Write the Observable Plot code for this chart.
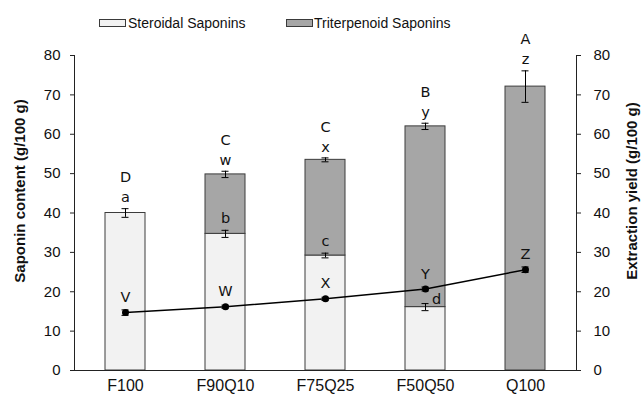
<!DOCTYPE html>
<html><head><meta charset="utf-8">
<script src="https://cdn.jsdelivr.net/npm/d3@7"></script>
<script src="https://cdn.jsdelivr.net/npm/@observablehq/plot@0.6"></script>
<style>
body{margin:0;background:#fff;}
#wrap{width:642px;height:395px;position:relative;font-family:"Liberation Sans",Arial,sans-serif;color:#111;}
#legend{position:absolute;left:0;top:0;width:642px;height:40px;z-index:2;}
#chart{position:absolute;left:0;top:0;}
.sw{position:absolute;top:19px;width:25px;height:6px;border:1px solid #3a3a3a;}
.lt{position:absolute;top:15px;font-size:14px;line-height:16px;white-space:nowrap;}
</style>
</head><body>
<div id="wrap">
  <div id="chart"></div>
  <div id="legend"></div>
</div>
<script>
const categories = ["F100", "F90Q10", "F75Q25", "F50Q50", "Q100"];
const seriesNames = ["Steroidal Saponins", "Triterpenoid Saponins"];
const steroidal = [40.0, 34.7, 29.2, 16.1, 0];
const triterpenoid = [0, 15.1, 24.3, 45.9, 72.1];
const totalSD = [1.1, 0.8, 0.5, 0.8, 4.0];
const steroidalSD = [1.1, 0.9, 0.6, 0.9, 0];
const extractionYield = [14.7, 16.2, 18.2, 20.7, 25.6];
const yieldSD = [0.7, 0.4, 0.4, 0.5, 0.7];
const topLower = ["a", "w", "x", "y", "z"];
const topUpper = ["D", "C", "C", "B", "A"];
const midLetters = ["", "b", "c", "d", ""];
const yieldLetters = ["V", "W", "X", "Y", "Z"];
const yTicks = [0, 10, 20, 30, 40, 50, 60, 70, 80];
const leftTitle = "Saponin content (g/100 g)";
const rightTitle = "Extraction yield (g/100 g)";
const colors = ["#f2f2f2", "#a6a6a6"];

// legend
const legend = document.getElementById("legend");
const legendPos = [[99, 128], [286, 314]];
seriesNames.forEach((n, i) => {
  const s = document.createElement("div");
  s.className = "sw"; s.style.left = legendPos[i][0] + "px"; s.style.background = colors[i];
  const t = document.createElement("div");
  t.className = "lt"; t.style.left = legendPos[i][1] + "px"; t.textContent = n;
  legend.appendChild(s); legend.appendChild(t);
});

const rows = [];
categories.forEach((c, i) => {
  if (steroidal[i] > 0) rows.push({cat: c, type: seriesNames[0], value: steroidal[i]});
  if (triterpenoid[i] > 0) rows.push({cat: c, type: seriesNames[1], value: triterpenoid[i]});
});
const pts = categories.map((c, i) => ({
  cat: c,
  ster: steroidal[i],
  ssd: steroidalSD[i],
  total: steroidal[i] + triterpenoid[i],
  tsd: totalSD[i],
  yld: extractionYield[i],
  ysd: yieldSD[i],
  lower: topLower[i], upper: topUpper[i], mid: midLetters[i], yl: yieldLetters[i],
  stacked: steroidal[i] > 0 && triterpenoid[i] > 0
}));
const midPts = pts.filter(d => d.stacked);
const midAbove = midPts.filter(d => d.ster > d.total / 2);
const midBeside = midPts.filter(d => d.ster <= d.total / 2);

const letterFont = {fontFamily: "DejaVu Sans", fontSize: 14.5, fill: "#111"};
const cap = {insetLeft: 16.5, insetRight: 16.5, stroke: "#000", strokeWidth: 1};
const titleFont = {fontWeight: "bold", fontSize: 15, fill: "#111", rotate: -90, textAnchor: "middle", dy: -22};

const chart = Plot.plot({
  width: 642,
  height: 395,
  marginLeft: 74,
  marginRight: 66,
  marginTop: 55,
  marginBottom: 25,
  style: {fontFamily: "'Liberation Sans', Arial, sans-serif", fontSize: "15px", color: "#111", background: "#fff", overflow: "visible"},
  x: {domain: categories, paddingInner: 0.6, paddingOuter: 0.3},
  y: {domain: [0, 80]},
  color: {domain: seriesNames, range: colors},
  marks: [
    Plot.barY(rows, {x: "cat", y: "value", fill: "type", stroke: "#3c3c3c", strokeWidth: 1}),
    // total error bars
    Plot.ruleX(pts, {x: "cat", y1: d => d.total - d.tsd, y2: d => d.total + d.tsd, stroke: "#000"}),
    Plot.tickY(pts, {x: "cat", y: d => d.total + d.tsd, ...cap}),
    Plot.tickY(pts, {x: "cat", y: d => d.total - d.tsd, ...cap}),
    // steroidal error bars in stacked bars
    Plot.ruleX(midPts, {x: "cat", y1: d => d.ster - d.ssd, y2: d => d.ster + d.ssd, stroke: "#000"}),
    Plot.tickY(midPts, {x: "cat", y: d => d.ster + d.ssd, ...cap}),
    Plot.tickY(midPts, {x: "cat", y: d => d.ster - d.ssd, ...cap}),
    // yield line
    Plot.line(pts, {x: "cat", y: "yld", stroke: "#000", strokeWidth: 1.5}),
    Plot.ruleX(pts, {x: "cat", y1: d => d.yld - d.ysd, y2: d => d.yld + d.ysd, stroke: "#000"}),
    Plot.tickY(pts, {x: "cat", y: d => d.yld + d.ysd, ...cap}),
    Plot.tickY(pts, {x: "cat", y: d => d.yld - d.ysd, ...cap}),
    Plot.dot(pts, {x: "cat", y: "yld", r: 3.5, fill: "#000"}),
    // letters
    Plot.text(pts, {x: "cat", y: d => d.total + d.tsd, text: "lower", dy: -11, ...letterFont}),
    Plot.text(pts, {x: "cat", y: d => d.total + d.tsd, text: "upper", dy: -31, ...letterFont}),
    Plot.text(midAbove, {x: "cat", y: d => d.ster + d.ssd, text: "mid", dy: -12, ...letterFont}),
    Plot.text(midBeside, {x: "cat", y: "ster", text: "mid", dx: 11, dy: -8, ...letterFont}),
    Plot.text(pts, {x: "cat", y: "yld", text: "yl", dy: -15, ...letterFont}),
    // axes
    Plot.ruleY([0], {stroke: "#222"}),
    Plot.frame({anchor: "left", stroke: "#222"}),
    Plot.frame({anchor: "right", stroke: "#222"}),
    Plot.axisY({anchor: "left", ticks: yTicks, tickSize: 4, tickPadding: 10, fontSize: 15, stroke: "#222", label: null}),
    Plot.axisY({anchor: "right", ticks: yTicks, tickSize: 4, tickPadding: 13, fontSize: 15, stroke: "#222", label: null}),
    Plot.axisX({anchor: "bottom", tickSize: 0, tickPadding: 9, fontSize: 16, label: null}),
    Plot.text([leftTitle], {frameAnchor: "left", dx: -54, ...titleFont}),
    Plot.text([rightTitle], {frameAnchor: "right", dx: 56, ...titleFont})
  ]
});
document.getElementById("chart").appendChild(chart);
</script>
</body></html>
